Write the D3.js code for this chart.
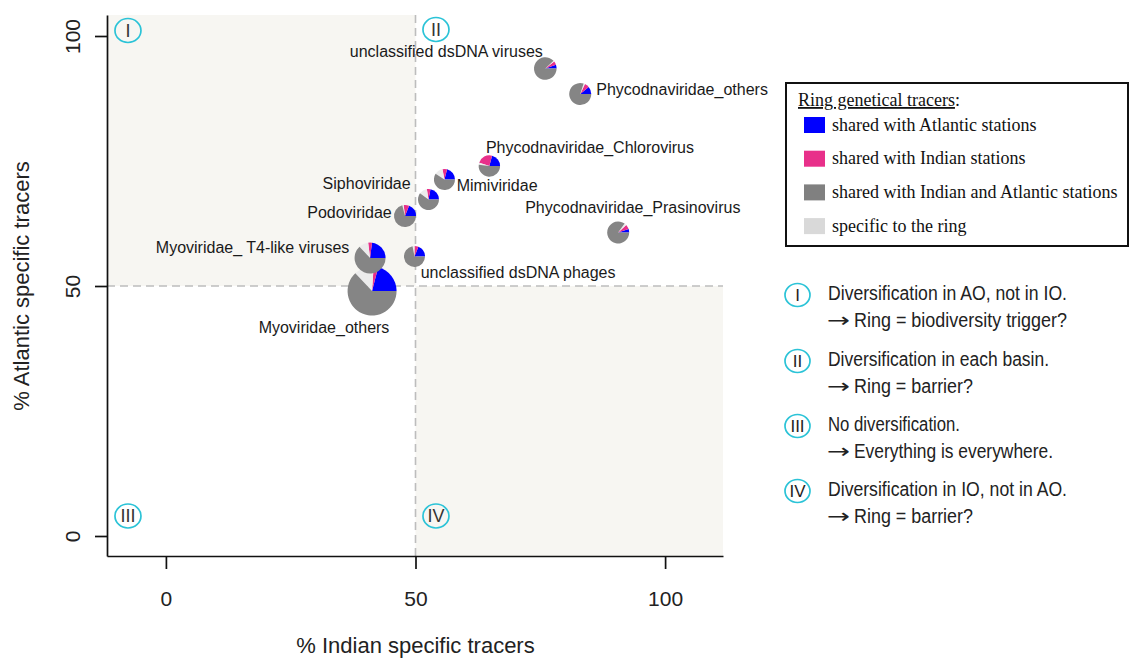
<!DOCTYPE html>
<html>
<head>
<meta charset="utf-8">
<script src="https://cdn.jsdelivr.net/npm/d3@7"></script>
<style>
  html, body { margin: 0; padding: 0; background: #fff; }
  svg { display: block; }
</style>
</head>
<body>
<svg id="chart" width="1130" height="659"></svg>
<script>
// ---------------- DATA ----------------
const taxa = [
  "unclassified dsDNA viruses",
  "Phycodnaviridae_others",
  "Phycodnaviridae_Chlorovirus",
  "Mimiviridae",
  "Siphoviridae",
  "Podoviridae",
  "Myoviridae_ T4-like viruses",
  "unclassified dsDNA phages",
  "Myoviridae_others",
  "Phycodnaviridae_Prasinovirus"
];
// % Indian specific tracers (x) and % Atlantic specific tracers (y)
const indianSpecific   = [76.0, 83.0, 64.8, 55.8, 52.6, 47.9, 40.9, 49.8, 41.3, 90.6];
const atlanticSpecific = [93.5, 88.4, 74.0, 71.3, 67.3, 64.0, 55.6, 55.9, 49.0, 60.7];
// number of ring tracers (pie size)
const tracerCount      = [213, 202, 191, 184, 184, 202, 400, 184, 1000, 202];
// pie composition (%)
const sharedAtlantic   = [5.5, 11, 21, 21, 22, 19, 23, 19, 21, 5];
const sharedIndian     = [5,   7,  24, 7,  5.5, 8, 4,  6,  3,  7];
const specificRing     = [1.5, 2,  3,  13, 12.5, 2, 10, 3,  13, 3];
const sharedBoth       = [88,  80, 52, 59, 60, 71, 63, 72, 63, 85];

const xTicks = [0, 50, 100];
const yTicks = [0, 50, 100];
const xLimits = [-11.8, 111.6];
const yLimits = [-4, 104.2];
const quadrantThreshold = 50;

const quadrantNames = ["I", "II", "III", "IV"];
const quadrantX = [-7.6, 54.1, -7.6, 54.1];
const quadrantY = [101.1, 101.3, 4, 4];

const legendTitle = "Ring genetical tracers";
const legendItems = [
  "shared with Atlantic stations",
  "shared with Indian stations",
  "shared with Indian and Atlantic stations",
  "specific to the ring"
];

const noteFirst = [
  "Diversification in AO, not in IO.",
  "Diversification in each basin.",
  "No diversification.",
  "Diversification in IO, not in AO."
];
const noteSecond = [
  "Ring = biodiversity trigger?",
  "Ring = barrier?",
  "Everything is everywhere.",
  "Ring = barrier?"
];

// ---------------- LAYOUT / STYLE ----------------
const SANS = "'Liberation Sans', Arial, Helvetica, sans-serif";
const SERIF = "'Liberation Serif', 'Times New Roman', serif";
const sliceColors = ["#0000ff", "#e8308a", "#ececec", "#858585"];
const legendColors = ["#0000ff", "#e8308a", "#808080", "#d9d9d9"];
// label placement relative to pie centre: [anchor, dx, dy]
const labelLayout = [
  ["end", -2.5, -11.2],
  ["start", 16, 1],
  ["start", -3.5, -13.3],
  ["start", 12.2, 11.2],
  ["end", -17.8, -10.2],
  ["end", -13.3, 2.3],
  ["end", -20.7, -5.2],
  ["start", 6.2, 21.8],
  ["end", 17.3, 41.7],
  ["start", -93, -19.2]
];
const firstWidths = [239, 221, 132, 239];
const secondWidths = [213, 119, 199, 119];

// ---------------- CHART ----------------
const svg = d3.select("#chart");
const plot = { left: 107, right: 723, top: 15, bottom: 556 };

const x = d3.scaleLinear().domain(xLimits).range([plot.left, plot.right]);
const y = d3.scaleLinear().domain(yLimits).range([plot.bottom, plot.top]);
const r = d3.scaleSqrt().domain([0, d3.max(tracerCount)]).range([0, 24.5]);

// quadrant shading
const shade = "#f7f6f2";
svg.append("rect")
  .attr("x", x(xLimits[0])).attr("y", y(yLimits[1]))
  .attr("width", x(quadrantThreshold) - x(xLimits[0]))
  .attr("height", y(quadrantThreshold) - y(yLimits[1]))
  .attr("fill", shade);
svg.append("rect")
  .attr("x", x(quadrantThreshold)).attr("y", y(quadrantThreshold))
  .attr("width", x(xLimits[1]) - x(quadrantThreshold))
  .attr("height", y(yLimits[0]) - y(quadrantThreshold))
  .attr("fill", shade);

// dashed threshold lines
svg.append("line")
  .attr("x1", x(quadrantThreshold)).attr("x2", x(quadrantThreshold))
  .attr("y1", y(yLimits[0])).attr("y2", y(yLimits[1]))
  .attr("stroke", "#bdbdbd").attr("stroke-width", 1.6).attr("stroke-dasharray", "8,5");
svg.append("line")
  .attr("x1", x(xLimits[0])).attr("x2", x(xLimits[1]))
  .attr("y1", y(quadrantThreshold)).attr("y2", y(quadrantThreshold))
  .attr("stroke", "#bdbdbd").attr("stroke-width", 1.6).attr("stroke-dasharray", "8,5");

// axes
const axisColor = "#111";
const gx = svg.append("g").attr("transform", `translate(0,${plot.bottom})`)
  .call(d3.axisBottom(x).tickValues(xTicks).tickSize(13).tickSizeOuter(0).tickFormat(d3.format("d")));
const gy = svg.append("g").attr("transform", `translate(${plot.left},0)`)
  .call(d3.axisLeft(y).tickValues(yTicks).tickSize(12).tickSizeOuter(0).tickFormat(d3.format("d")));
[gx, gy].forEach(g => {
  g.select(".domain").attr("stroke", axisColor).attr("stroke-width", 1.7);
  g.selectAll(".tick line").attr("stroke", axisColor).attr("stroke-width", 1.7);
  g.selectAll(".tick text").attr("fill", "#222").attr("font-size", 21)
    .attr("font-family", SANS);
});
gx.selectAll(".tick text").attr("y", 50).attr("dy", 0);
gy.selectAll(".tick text").attr("x", null).attr("dy", 0)
  .attr("text-anchor", "middle").attr("transform", "translate(-27,0) rotate(-90)");

// axis titles
svg.append("text").attr("x", x(50)).attr("y", 653)
  .attr("text-anchor", "middle").attr("font-size", 22).attr("fill", "#222")
  .attr("font-family", SANS)
  .text("% Indian specific tracers");
svg.append("text")
  .attr("transform", `translate(29,${y(50)}) rotate(-90)`)
  .attr("text-anchor", "middle").attr("font-size", 22).attr("fill", "#222")
  .attr("font-family", SANS)
  .text("% Atlantic specific tracers");

// quadrant markers
const circleColor = "#2bc3d7";
const qg = svg.append("g").selectAll("g").data(quadrantNames).join("g")
  .attr("transform", (d, i) => `translate(${x(quadrantX[i])},${y(quadrantY[i])})`);
qg.append("ellipse").attr("rx", 13).attr("ry", 12)
  .attr("fill", "none").attr("stroke", circleColor).attr("stroke-width", 1.7);
qg.append("text").attr("text-anchor", "middle").attr("dy", "0.36em")
  .attr("font-family", SANS)
  .attr("font-size", 18).attr("fill", "#333").text(d => d);

// pies
const pie = d3.pie().sort(null).value(d => d)
  .startAngle(Math.PI / 2).endAngle(Math.PI / 2 - 2 * Math.PI);
const order = d3.range(taxa.length).sort((a, b) => tracerCount[b] - tracerCount[a]);
const pg = svg.append("g").selectAll("g").data(order).join("g")
  .attr("transform", i => `translate(${x(indianSpecific[i])},${y(atlanticSpecific[i])})`);
pg.each(function(i) {
  const vals = [sharedAtlantic[i], sharedIndian[i], specificRing[i], sharedBoth[i]];
  const arc = d3.arc().innerRadius(0).outerRadius(r(tracerCount[i]));
  d3.select(this).selectAll("path").data(pie(vals)).join("path")
    .attr("d", arc).attr("fill", (d, k) => sliceColors[k]);
});

// pie labels
svg.append("g").selectAll("text").data(taxa).join("text")
  .attr("x", (d, i) => x(indianSpecific[i]) + labelLayout[i][1])
  .attr("y", (d, i) => y(atlanticSpecific[i]) + labelLayout[i][2])
  .attr("text-anchor", (d, i) => labelLayout[i][0])
  .attr("font-family", SANS)
  .attr("font-size", 16).attr("fill", "#1a1a1a")
  .text(d => d);

// legend
const lg = svg.append("g");
lg.append("rect").attr("x", 786).attr("y", 83).attr("width", 342).attr("height", 163)
  .attr("fill", "#fff").attr("stroke", "#111").attr("stroke-width", 2);
const lt = lg.append("text").attr("x", 798).attr("y", 106)
  .attr("font-family", SERIF)
  .attr("font-size", 18).attr("fill", "#111");
lt.append("tspan").attr("text-decoration", "underline").text(legendTitle);
lt.append("tspan").text(":");
const li = lg.selectAll("g.item").data(legendItems).join("g").attr("class", "item")
  .attr("transform", (d, i) => `translate(0,${125 + i * 33.7})`);
li.append("rect").attr("x", 804).attr("y", -8).attr("width", 21).attr("height", 16)
  .attr("fill", (d, i) => legendColors[i]);
li.append("text").attr("x", 832).attr("y", 5.5)
  .attr("font-family", SERIF)
  .attr("font-size", 18).attr("fill", "#111").text(d => d);

// notes on the right
const noteTop = [295, 361, 426, 491];
const ng = svg.append("g").selectAll("g").data(noteFirst).join("g")
  .attr("transform", (d, i) => `translate(0,${noteTop[i]})`);
ng.append("ellipse").attr("cx", 797.5).attr("cy", 0).attr("rx", 12.5).attr("ry", 11.5)
  .attr("fill", "none").attr("stroke", circleColor).attr("stroke-width", 1.7);
ng.append("text").attr("x", 797.5).attr("y", 0).attr("dy", "0.36em")
  .attr("font-family", SANS)
  .attr("text-anchor", "middle").attr("font-size", 17).attr("fill", "#222")
  .text((d, i) => quadrantNames[i]);
ng.append("text").attr("x", 828).attr("y", 5)
  .attr("font-family", SANS).attr("font-size", 20).attr("fill", "#222")
  .attr("textLength", (d, i) => firstWidths[i]).attr("lengthAdjust", "spacingAndGlyphs")
  .text(d => d);
ng.append("text").attr("x", 827).attr("y", 31.7)
  .attr("font-family", "'DejaVu Sans', sans-serif").attr("font-size", 20).attr("fill", "#222")
  .attr("textLength", 23).attr("lengthAdjust", "spacingAndGlyphs")
  .text("\u2192");
ng.append("text").attr("x", 854).attr("y", 31.7)
  .attr("font-family", SANS).attr("font-size", 20).attr("fill", "#222")
  .attr("textLength", (d, i) => secondWidths[i]).attr("lengthAdjust", "spacingAndGlyphs")
  .text((d, i) => noteSecond[i]);
</script>
</body>
</html>
